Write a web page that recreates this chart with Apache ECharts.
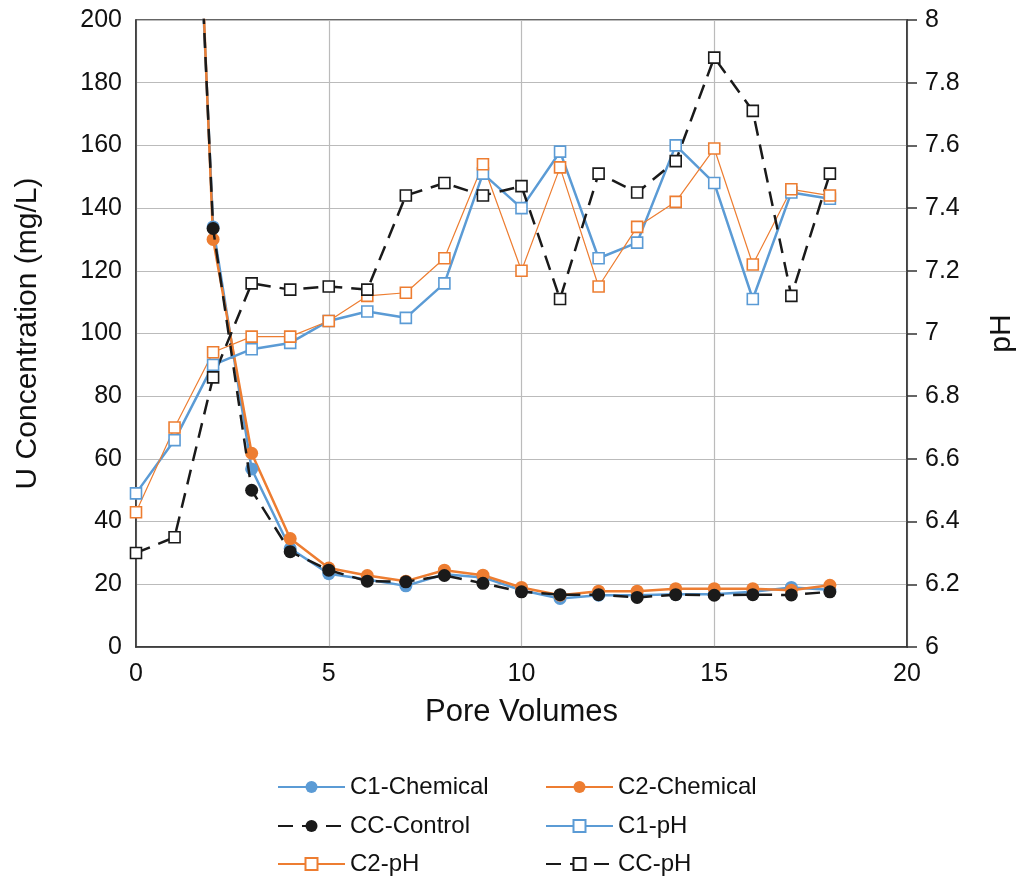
<!DOCTYPE html>
<html>
<head>
<meta charset="utf-8">
<script src="https://cdn.jsdelivr.net/npm/echarts@6/dist/echarts.min.js"></script>
<style>
html,body{margin:0;padding:0;background:#fff;}
#chart{width:1020px;height:876px;}
</style>
</head>
<body>
<div id="chart"></div>
<script>
// Pore volume positions
const pvPH = [0,1,2,3,4,5,6,7,8,9,10,11,12,13,14,15,16,17,18];
const pvChem = [1,2,3,4,5,6,7,8,9,10,11,12,13,14,15,16,17,18];

// U concentration (mg/L)
const c1Chemical = [409,134,56.8,31.4,23.4,21.5,19.5,23.2,22.2,18.1,15.5,16.5,16.5,16.8,16.8,17.6,19.0,18.3];
const c2Chemical = [430,130,61.8,34.6,25.2,22.8,21.0,24.5,22.9,19.0,16.5,17.8,17.8,18.6,18.6,18.6,18.1,19.7];
const ccControl  = [410,133.5,50.0,30.4,24.5,21.0,20.8,22.8,20.3,17.6,16.7,16.7,15.8,16.7,16.5,16.7,16.6,17.6];

// pH
const c1pH = [6.49,6.66,6.90,6.95,6.97,7.04,7.07,7.05,7.16,7.51,7.40,7.58,7.24,7.29,7.60,7.48,7.11,7.45,7.43];
const c2pH = [6.43,6.70,6.94,6.99,6.99,7.04,7.12,7.13,7.24,7.54,7.20,7.53,7.15,7.34,7.42,7.59,7.22,7.46,7.44];
const ccpH = [6.30,6.35,6.86,7.16,7.14,7.15,7.14,7.44,7.48,7.44,7.47,7.11,7.51,7.45,7.55,7.88,7.71,7.12,7.51];

const names = ['C1-Chemical','C2-Chemical','CC-Control','C1-pH','C2-pH','CC-pH'];

const BLUE = '#5B9BD5', ORANGE = '#ED7D31', BLACK = '#1a1a1a';
const FONT = "'Liberation Sans', Arial, Helvetica, sans-serif";

function pairs(xs, ys){ return xs.map((x,i)=>[x, ys[i]]); }

const chart = echarts.init(document.getElementById('chart'), null, {renderer:'canvas'});

function legendAt(name, left, top){
  return {
    data:[name], left:left, top:top, orient:'horizontal',
    itemWidth:67, itemHeight:15, itemGap:10,
    textStyle:{fontFamily:FONT, fontSize:24, color:'#111'},
    selectedMode:false
  };
}

const option = {
  animation:false,
  backgroundColor:'#fff',
  grid:{left:136, right:113, top:20, bottom:229, containLabel:false, outerBoundsMode:'none',
        show:true, borderColor:'#333', borderWidth:1.5, backgroundColor:'transparent'},
  legend:[
    legendAt(names[0], 272, 770),
    legendAt(names[1], 540, 770),
    legendAt(names[2], 272, 809),
    legendAt(names[3], 540, 809),
    legendAt(names[4], 272, 847),
    legendAt(names[5], 540, 847)
  ],
  xAxis:{
    type:'value', min:0, max:20, interval:5,
    name:'Pore Volumes', nameLocation:'middle', nameGap:50,
    nameTextStyle:{fontFamily:FONT, fontSize:31, color:'#111'},
    axisLine:{show:true, lineStyle:{color:'#333', width:1.5}},
    axisTick:{show:false},
    axisLabel:{fontFamily:FONT, fontSize:25, color:'#111', margin:15},
    splitLine:{show:true, lineStyle:{color:'#BBBBBB', width:1.2}}
  },
  yAxis:[
    {
      type:'value', min:0, max:200, interval:20, position:'left',
      name:'U Concentration (mg/L)', nameLocation:'middle', nameGap:93, nameRotate:90,
      nameTextStyle:{fontFamily:FONT, fontSize:30, color:'#111'},
      axisLine:{show:true, lineStyle:{color:'#333', width:1.5}},
      axisTick:{show:false},
      axisLabel:{fontFamily:FONT, fontSize:25, color:'#111', margin:14},
      splitLine:{show:true, lineStyle:{color:'#BBBBBB', width:1.2}}
    },
    {
      type:'value', min:6, max:8, interval:0.2, position:'right',
      name:'pH', nameLocation:'middle', nameGap:80, nameRotate:90,
      nameTextStyle:{fontFamily:FONT, fontSize:30, color:'#111'},
      axisLine:{show:true, lineStyle:{color:'#333', width:1.5}},
      axisTick:{show:true, inside:false, length:10, lineStyle:{color:'#333', width:1.5}},
      axisLabel:{fontFamily:FONT, fontSize:25, color:'#111', margin:18},
      splitLine:{show:false}
    }
  ],
  series:[
    {
      name:names[0], type:'line', yAxisIndex:0, data:pairs(pvChem, c1Chemical),
      symbol:'circle', symbolSize:13, clip:true,
      lineStyle:{color:BLUE, width:2.5}, itemStyle:{color:BLUE}, z:2
    },
    {
      name:names[1], type:'line', yAxisIndex:0, data:pairs(pvChem, c2Chemical),
      symbol:'circle', symbolSize:13, clip:true,
      lineStyle:{color:ORANGE, width:2.5}, itemStyle:{color:ORANGE}, z:2
    },
    {
      name:names[2], type:'line', yAxisIndex:0, data:pairs(pvChem, ccControl),
      symbol:'circle', symbolSize:13, clip:true,
      lineStyle:{color:BLACK, width:2.5, type:[15,9]}, itemStyle:{color:BLACK}, z:3
    },
    {
      name:names[3], type:'line', yAxisIndex:1, data:pairs(pvPH, c1pH),
      symbol:'rect', symbolSize:11, clip:true,
      lineStyle:{color:BLUE, width:2.5}, itemStyle:{color:'#fff', borderColor:BLUE, borderWidth:1.6}, z:4
    },
    {
      name:names[4], type:'line', yAxisIndex:1, data:pairs(pvPH, c2pH),
      symbol:'rect', symbolSize:11, clip:true,
      lineStyle:{color:ORANGE, width:1.2}, itemStyle:{color:'#fff', borderColor:ORANGE, borderWidth:1.6}, z:4
    },
    {
      name:names[5], type:'line', yAxisIndex:1, data:pairs(pvPH, ccpH),
      symbol:'rect', symbolSize:11, clip:true,
      lineStyle:{color:BLACK, width:2.5, type:[15,9]}, itemStyle:{color:'#fff', borderColor:BLACK, borderWidth:1.6}, z:4
    }
  ]
};
chart.setOption(option);
</script>
</body>
</html>
